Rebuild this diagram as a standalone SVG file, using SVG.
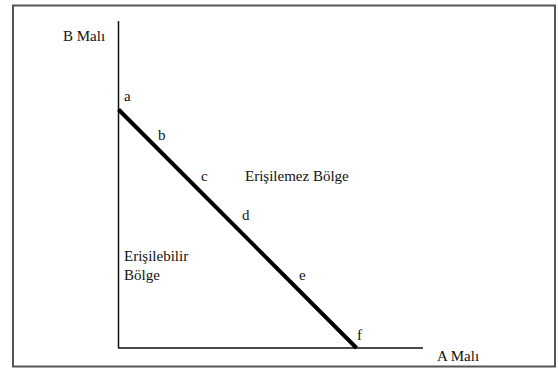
<svg xmlns="http://www.w3.org/2000/svg" width="558" height="370" viewBox="0 0 558 370">
<style>
text{font-size:15px;fill:#111}
.axis{stroke:#111;stroke-width:1.5;fill:none}
.budget{stroke:#000;stroke-width:4;fill:none}
</style>
<rect x="0" y="0" width="558" height="370" fill="#fff"/>
<rect x="13" y="5.5" width="542" height="361" fill="none" stroke="#555" stroke-width="2"/>
<g id="connectors">
<line class="axis" x1="118.5" y1="21" x2="118.5" y2="348"/>
<line class="axis" x1="118" y1="348" x2="423" y2="348"/>
<line class="budget" x1="118.5" y1="109.5" x2="356.5" y2="348"/>
</g>
<g font-family="Liberation Serif, serif">
<g id="label-b-mali"><text x="63" y="41">B Malı</text></g>
<g id="label-a-mali"><text x="437" y="361">A Malı</text></g>
<g id="point-a"><text x="124" y="101">a</text></g>
<g id="point-b"><text x="158" y="140">b</text></g>
<g id="point-c"><text x="201" y="181">c</text></g>
<g id="point-d"><text x="242" y="220">d</text></g>
<g id="point-e"><text x="299" y="280">e</text></g>
<g id="point-f"><text x="357" y="340">f</text></g>
<g id="region-unreachable"><text x="245" y="181">Erişilemez Bölge</text></g>
<g id="region-reachable"><text x="124" y="261">Erişilebilir</text><text x="124" y="280">Bölge</text></g>
</g>
</svg>
